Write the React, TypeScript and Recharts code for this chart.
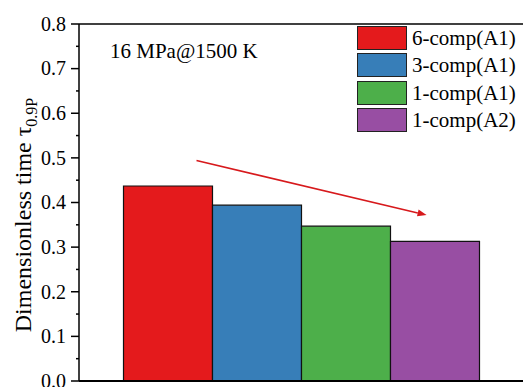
import { BarChart, Bar, XAxis, YAxis, ReferenceLine, Legend } from 'recharts';

// series (one category, four bars side by side)
const seriesNames = ['6-comp(A1)', '3-comp(A1)', '1-comp(A1)', '1-comp(A2)'];
const seriesKeys = ['c6a1', 'c3a1', 'c1a1', 'c1a2'];
const seriesValues = [0.437, 0.394, 0.347, 0.313];
const seriesColors = ['#e41a1c', '#377eb8', '#4daf4a', '#984ea3'];

const yTicks = [0, 0.05, 0.1, 0.15, 0.2, 0.25, 0.3, 0.35, 0.4, 0.45, 0.5, 0.55, 0.6, 0.65, 0.7, 0.75, 0.8];
const majorTicks = [0, 0.1, 0.2, 0.3, 0.4, 0.5, 0.6, 0.7, 0.8];

// trend arrow, in (fraction of plot width, y value)
const arrowFrom = { x: 0.264, y: 0.494 };
const arrowTo = { x: 0.781, y: 0.372 };

const FONT = '"Liberation Serif", "Times New Roman", serif';
const TICK_SIZE = 8;
const TICK_MARGIN = 4;

const row: Record<string, string | number> = { name: '', pos: 0.5 };
seriesKeys.forEach((k, i) => {
  row[k] = seriesValues[i];
});
const data = [row];

const YTick = (props: any) => {
  const { x, y, payload } = props;
  const v = payload.value as number;
  const major = majorTicks.some((t) => Math.abs(t - v) < 1e-6);
  const axisX = x + TICK_SIZE + TICK_MARGIN;
  return (
    <g>
      <line x1={axisX - (major ? 8 : 3)} x2={axisX} y1={y} y2={y} stroke="#000" strokeWidth={1.5} />
      {major && (
        <text x={axisX - 13} y={y} dy="0.34em" textAnchor="end" fontFamily={FONT} fontSize={20} fill="#000">
          {v.toFixed(1)}
        </text>
      )}
    </g>
  );
};

const Arrow = (props: any) => {
  const { x1, y1, x2, y2 } = props;
  const ang = Math.atan2(y2 - y1, x2 - x1);
  const len = 9;
  const half = 3.5;
  const bx = x2 - len * Math.cos(ang);
  const by = y2 - len * Math.sin(ang);
  const px = -Math.sin(ang) * half;
  const py = Math.cos(ang) * half;
  return (
    <g>
      <line x1={x1} y1={y1} x2={bx} y2={by} stroke="#d7191c" strokeWidth={1.6} />
      <polygon points={`${x2},${y2} ${bx + px},${by + py} ${bx - px},${by - py}`} fill="#d7191c" />
    </g>
  );
};

// legend drawn from the series arrays so the order stays as in the figure
const LegendBox = () => (
  <div style={{ fontFamily: FONT, fontSize: 21, color: '#000' }}>
    {seriesNames.map((n, i) => (
      <div key={n} style={{ display: 'flex', alignItems: 'center', height: 27.5 }}>
        <div
          style={{
            width: 48,
            height: 22,
            background: seriesColors[i],
            border: '1px solid #222',
            marginRight: 5,
          }}
        />
        <span style={{ lineHeight: '22px', whiteSpace: 'nowrap' }}>{n}</span>
      </div>
    ))}
  </div>
);

export default function App() {
  return (
    <div style={{ position: 'absolute', left: 0, top: 0, width: 523, height: 387, overflow: 'hidden', background: '#fff' }}>
      <BarChart
        width={540}
        height={387}
        data={data}
        margin={{ top: 24, right: 16, bottom: 5, left: 0 }}
        barCategoryGap="10%"
        barGap={0}
      >
        <XAxis dataKey="name" tick={false} tickLine={false} height={1} axisLine={{ stroke: '#000', strokeWidth: 2 }} />
        <XAxis xAxisId="pos" dataKey="pos" type="number" domain={[0, 1]} allowDataOverflow hide />
        <YAxis
          width={79}
          domain={[0, 0.8]}
          ticks={yTicks}
          interval={0}
          tickLine={false}
          tickSize={TICK_SIZE}
          tickMargin={TICK_MARGIN}
          tick={<YTick />}
          axisLine={{ stroke: '#000', strokeWidth: 1.5 }}
        />
        <ReferenceLine y={0.8} stroke="#000" strokeWidth={1.5} />
        {seriesKeys.map((k, i) => (
          <Bar
            key={k}
            dataKey={k}
            name={seriesNames[i]}
            fill={seriesColors[i]}
            stroke="#111"
            strokeWidth={1.2}
            isAnimationActive={false}
          />
        ))}
        <ReferenceLine
          xAxisId="pos"
          segment={[arrowFrom, arrowTo]}
          shape={(p: any) => <Arrow {...p} />}
          ifOverflow="visible"
        />
        <Legend
          layout="vertical"
          align="center"
          verticalAlign="middle"
          content={<LegendBox />}
          wrapperStyle={{ position: 'absolute', left: 357, top: 24, width: 180 }}
        />
      </BarChart>
      <svg style={{ position: 'absolute', left: 0, top: 0 }} width={60} height={387}>
        <text
          transform="translate(31,215) rotate(-90)"
          textAnchor="middle"
          fontFamily={FONT}
          fontSize={24}
          fill="#000"
        >
          Dimensionless time τ
          <tspan fontSize={16} dy={6}>0.9P</tspan>
        </text>
      </svg>
      <div
        style={{
          position: 'absolute',
          left: 110,
          top: 41,
          fontFamily: FONT,
          fontSize: 21,
          lineHeight: '20px',
          whiteSpace: 'nowrap',
          color: '#000',
        }}
      >
        16 MPa@1500 K
      </div>
    </div>
  );
}
